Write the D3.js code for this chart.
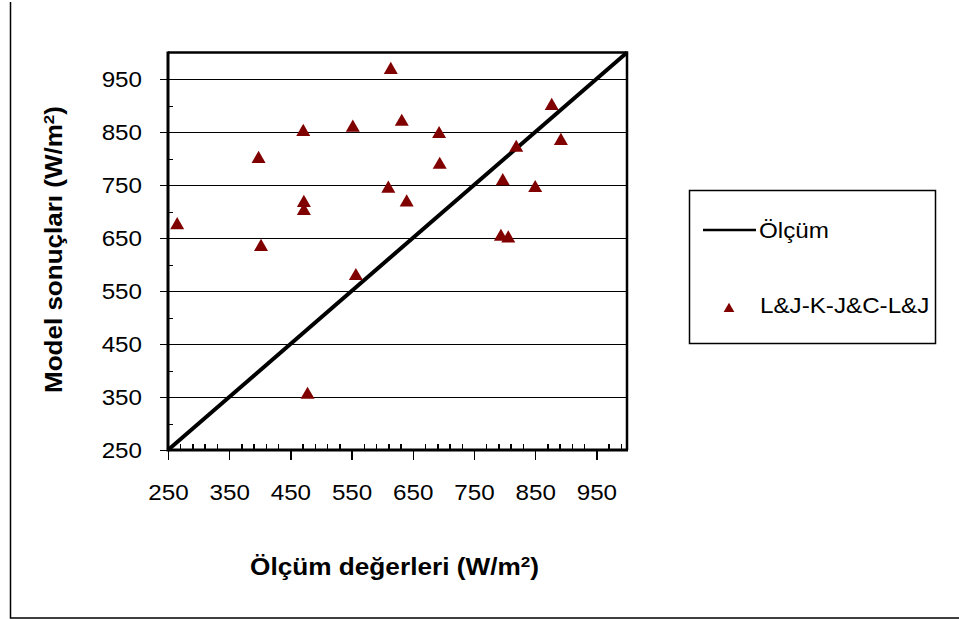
<!doctype html>
<html>
<head>
<meta charset="utf-8">
<title>Model sonuçları</title>
<script src="https://cdnjs.cloudflare.com/ajax/libs/d3/7.8.5/d3.min.js"></script>
<style>
body { margin: 0; background: #fff; }
svg text { font-family: "Liberation Sans", Arial, sans-serif; fill: #000; }
.tick line { shape-rendering: crispEdges; }
</style>
</head>
<body>
<div id="chart"></div>
<script>
// ölçülen değerler (x) ve model sonuçları (y)
var olcum = [265, 398, 471, 552, 472, 472, 402, 557, 478, 614, 632,
             693, 694, 610, 640, 877, 892, 819, 797, 850, 794, 806];
var model = [678, 803, 854, 862, 720, 705, 637, 582, 358, 971, 873,
             850, 792, 747, 721, 903, 837, 824, 761, 748, 656, 653];
var lineVals = [250, 1000];
var majorTicks = [250, 350, 450, 550, 650, 750, 850, 950];
var xMinor = d3.range(270, 1001, 20).filter(function(v){ return (v - 250) % 100 != 0; });
var yMinor = [300, 400, 500, 600, 700, 800, 900];
var seriesNames = ["Ölçüm", "L&J-K-J&C-L&J"];

var W = 959, H = 619;
var pLeft = 168, pRight = 627, pTop = 52.5, pBottom = 450;
var sx = 1.1; // yatay yazı genişliği

var svg = d3.select("#chart").append("svg")
    .attr("width", W).attr("height", H);

// dış çerçeve (sadece sol ve alt)
svg.append("path")
    .attr("d", "M10.5,2V618H959")
    .attr("fill", "none").attr("stroke", "#000").attr("stroke-width", 1.5);

var x = d3.scaleLinear().domain([250, 1000]).range([pLeft, pRight]);
var y = d3.scaleLinear().domain([250, 1000]).range([pBottom, pTop]);

// grid
svg.append("g").selectAll("line").data(majorTicks).enter().append("line")
    .attr("x1", pLeft).attr("x2", pRight)
    .attr("y1", function(d){ return Math.round(y(d)) + 0.5; })
    .attr("y2", function(d){ return Math.round(y(d)) + 0.5; })
    .attr("stroke", "#000").attr("stroke-width", 1);

// plot alanı üst ve sağ kenar
svg.append("path")
    .attr("d", "M" + pLeft + "," + pTop + "H" + pRight + "V" + pBottom)
    .attr("fill", "none").attr("stroke", "#000").attr("stroke-width", 2.5);

// x ekseni
var xAxis = svg.append("g").attr("transform", "translate(0," + pBottom + ")")
    .call(d3.axisBottom(x).tickValues(majorTicks).tickSize(10).tickSizeOuter(0).tickPadding(24));
xAxis.select(".domain").remove();
xAxis.selectAll(".tick line").attr("stroke-width", 1.5);
xAxis.selectAll("text").style("font-size", "22px")
    .attr("transform", "scale(" + sx + ",1)");

var xAxisMinor = svg.append("g").attr("transform", "translate(0," + pBottom + ")")
    .call(d3.axisTop(x).tickValues(xMinor).tickSize(6).tickFormat(""));
xAxisMinor.select(".domain").remove();
xAxisMinor.selectAll(".tick line").attr("stroke-width", 1.5);

// y ekseni
var yAxis = svg.append("g").attr("transform", "translate(" + pLeft + ",0)")
    .call(d3.axisLeft(y).tickValues(majorTicks).tickSize(8).tickSizeOuter(0));
yAxis.select(".domain").remove();
yAxis.selectAll(".tick line").attr("stroke-width", 1);
yAxis.selectAll("text").style("font-size", "22px")
    .attr("x", -26 / sx)
    .attr("transform", "scale(" + sx + ",1)");

var yAxisMinor = svg.append("g").attr("transform", "translate(" + pLeft + ",0)")
    .call(d3.axisRight(y).tickValues(yMinor).tickSize(5).tickFormat(""));
yAxisMinor.select(".domain").remove();
yAxisMinor.selectAll(".tick line").attr("stroke-width", 1);

// ana eksen çizgileri
svg.append("path")
    .attr("d", "M" + pLeft + "," + (pTop - 1) + "V" + pBottom + "H" + (pRight + 1))
    .attr("fill", "none").attr("stroke", "#000").attr("stroke-width", 3);

// 1:1 çizgisi
var line = d3.line().x(function(d){ return x(d); }).y(function(d){ return y(d); });
svg.append("path").datum(lineVals)
    .attr("d", line)
    .attr("fill", "none").attr("stroke", "#000").attr("stroke-width", 4);

// noktalar (üçgenin kutu merkezi veri noktasında)
var tri = d3.symbol().type(d3.symbolTriangle).size(85);
svg.append("g").selectAll("path").data(olcum).enter().append("path")
    .attr("d", tri)
    .attr("transform", function(d, i){ return "translate(" + x(d) + "," + (y(model[i]) + 2) + ")"; })
    .attr("fill", "#800000");

// eksen başlıkları
var xt = svg.append("text")
    .attr("x", 250).attr("y", 575)
    .attr("textLength", 289).attr("lengthAdjust", "spacingAndGlyphs")
    .style("font-size", "23px").style("font-weight", "bold");
xt.append("tspan").text("Ölçüm değerleri (W/m");
xt.append("tspan").attr("dy", -8).style("font-size", "15px").text("2");
xt.append("tspan").attr("dy", 8).text(")");

var yt = svg.append("text")
    .attr("transform", "translate(62,393) rotate(-90)")
    .attr("x", 0).attr("y", 0)
    .attr("textLength", 287).attr("lengthAdjust", "spacingAndGlyphs")
    .style("font-size", "23px").style("font-weight", "bold");
yt.append("tspan").text("Model sonuçları  (W/m");
yt.append("tspan").attr("dy", -8).style("font-size", "15px").text("2");
yt.append("tspan").attr("dy", 8).text(")");

// lejant
var leg = svg.append("g");
leg.append("rect")
    .attr("x", 689.5).attr("y", 190.5).attr("width", 246).attr("height", 153)
    .attr("fill", "#fff").attr("stroke", "#000").attr("stroke-width", 1.5);
leg.append("line")
    .attr("x1", 703).attr("x2", 756).attr("y1", 230).attr("y2", 230)
    .attr("stroke", "#000").attr("stroke-width", 2.5);
leg.append("text")
    .attr("transform", "translate(759,237.5) scale(" + sx + ",1)")
    .style("font-size", "22px").text(seriesNames[0]);
leg.append("path")
    .attr("d", d3.symbol().type(d3.symbolTriangle).size(50))
    .attr("transform", "translate(729,309)")
    .attr("fill", "#800000");
leg.append("text")
    .attr("transform", "translate(760,313) scale(" + sx + ",1)")
    .style("font-size", "22px").text(seriesNames[1]);
</script>
</body>
</html>
